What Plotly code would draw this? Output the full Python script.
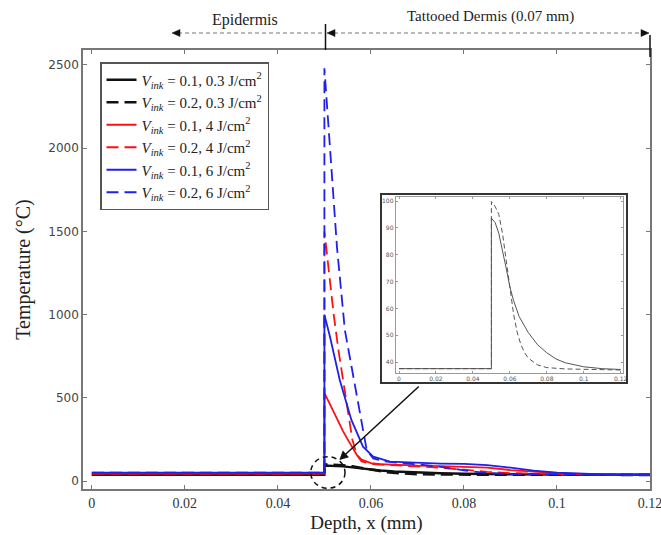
import plotly.graph_objects as go

# ---------------- data ----------------
labels = [
    "<i>V</i><sub><i>ink</i></sub> = 0.1, 0.3 J/cm<sup>2</sup>",
    "<i>V</i><sub><i>ink</i></sub> = 0.2, 0.3 J/cm<sup>2</sup>",
    "<i>V</i><sub><i>ink</i></sub> = 0.1, 4 J/cm<sup>2</sup>",
    "<i>V</i><sub><i>ink</i></sub> = 0.2, 4 J/cm<sup>2</sup>",
    "<i>V</i><sub><i>ink</i></sub> = 0.1, 6 J/cm<sup>2</sup>",
    "<i>V</i><sub><i>ink</i></sub> = 0.2, 6 J/cm<sup>2</sup>",
]

# black solid (0.1, 0.3 J/cm2)
x_k1 = [0, 0.05, 0.05, 0.052, 0.054, 0.056, 0.058, 0.06, 0.062, 0.065, 0.07, 0.075, 0.08, 0.085, 0.09, 0.1, 0.11, 0.12]
y_k1 = [37.6, 37.6, 93.6, 92, 88, 82, 75, 68, 63, 57, 51, 46.5, 43.5, 41.2, 39.8, 38.3, 37.6, 37.3]
# black dashed (0.2, 0.3 J/cm2)
x_k2 = [0, 0.05, 0.05, 0.052, 0.054, 0.056, 0.058, 0.06, 0.062, 0.064, 0.066, 0.068, 0.07, 0.075, 0.08, 0.09, 0.1, 0.12]
y_k2 = [37.6, 37.6, 99.8, 98, 95, 88, 78, 67, 58, 51, 46.5, 43.5, 41.5, 39, 38, 37.5, 37.3, 37.1]
# red solid (0.1, 4 J/cm2)
x_r1 = [0, 0.05, 0.05, 0.051, 0.052, 0.053, 0.054, 0.055, 0.056, 0.057, 0.058, 0.06, 0.062, 0.065, 0.07, 0.075, 0.08, 0.085, 0.09, 0.095, 0.1, 0.105, 0.11, 0.12]
y_r1 = [44, 44, 530, 470, 410, 355, 300, 250, 200, 155, 128, 108, 101, 96, 92, 90, 87, 80, 66, 55, 47, 42, 39.5, 38]
# red dashed (0.2, 4 J/cm2)
x_r2 = [0, 0.05, 0.05, 0.051, 0.052, 0.053, 0.054, 0.055, 0.056, 0.057, 0.058, 0.06, 0.065, 0.07, 0.075, 0.08, 0.085, 0.09, 0.1, 0.11, 0.12]
y_r2 = [44, 44, 1500, 1240, 1000, 790, 600, 420, 250, 155, 118, 102, 94, 90, 80, 68, 55, 47, 41, 38.5, 38]
# blue solid (0.1, 6 J/cm2)
x_b1 = [0, 0.05, 0.05, 0.0512, 0.0533, 0.0558, 0.0583, 0.0605, 0.0641, 0.07, 0.075, 0.08, 0.085, 0.09, 0.095, 0.1, 0.105, 0.11, 0.12]
y_b1 = [50, 50, 1000, 867, 607, 367, 206, 146, 116, 108, 105, 103, 96, 80, 62, 50, 44, 40, 38]
# blue dashed (0.2, 6 J/cm2)
x_b2 = [0, 0.05, 0.05, 0.051, 0.052, 0.0527, 0.0544, 0.0558, 0.0576, 0.0591, 0.0605, 0.063, 0.067, 0.07, 0.075, 0.08, 0.085, 0.09, 0.1, 0.12]
y_b2 = [50, 50, 2480, 2080, 1690, 1406, 907, 687, 407, 186, 136, 118, 106, 100, 85, 64, 48, 42, 39, 38]

x_ticks = [0, 0.02, 0.04, 0.06, 0.08, 0.1, 0.12]
x_ticktext = ["0", "0.02", "0.04", "0.06", "0.08", "0.1", "0.12"]
y_ticks = [0, 500, 1000, 1500, 2000, 2500]
inset_y_ticks = [40, 50, 60, 70, 80, 90, 100]

SERIF = "Liberation Serif"

fig = go.Figure()

series = [
    (x_k1, y_k1, "#111111", "solid", 2.4),
    (x_k2, y_k2, "#111111", "12px,6px", 2.6),
    (x_r1, y_r1, "#ff1010", "solid", 1.8),
    (x_r2, y_r2, "#ff1010", "12px,6px", 1.8),
    (x_b1, y_b1, "#2020e8", "solid", 1.8),
    (x_b2, y_b2, "#2020e8", "12px,6px", 1.8),
]
for (xs, ys, col, dash, w), lab in zip(series, labels):
    fig.add_trace(go.Scatter(x=xs, y=ys, mode="lines", name=lab,
                             line=dict(color=col, dash=dash, width=w)))

# inset traces
fig.add_trace(go.Scatter(x=x_k1, y=y_k1, mode="lines", xaxis="x2", yaxis="y2",
                         showlegend=False, line=dict(color="#555555", width=1)))
fig.add_trace(go.Scatter(x=x_k2, y=y_k2, mode="lines", xaxis="x2", yaxis="y2",
                         showlegend=False, line=dict(color="#555555", width=1, dash="5px,3px")))

W, H = 661, 535
L, R, T, B = 83, 11, 50, 46
PW, PH = W - L - R, H - T - B


def px(xp):
    return (xp - L) / PW


def py(yp):
    return (H - B - yp) / PH


axis_common = dict(showgrid=False, zeroline=False, showline=True, linecolor="#777777",
                   linewidth=1.5, ticks="inside", ticklen=4, tickcolor="#777777",
                   mirror="allticks", automargin=False, ticklabeloverflow="allow")

fig.update_layout(
    width=W, height=H,
    margin=dict(l=L, r=R, t=T, b=B, autoexpand=False),
    paper_bgcolor="white", plot_bgcolor="white",
    xaxis=dict(range=[-0.0019, 0.12], tickvals=x_ticks, ticktext=x_ticktext,
               tickfont=dict(family=SERIF, size=14, color="#333333"),
               title=dict(text="Depth, x (mm)", font=dict(family=SERIF, size=19, color="#222222"),
                          standoff=6),
               **axis_common),
    yaxis=dict(range=[-48, 2590], tickvals=y_ticks,
               tickfont=dict(family="DejaVu Sans", size=12, color="#444444"),
               title=dict(text="Temperature (°C)", font=dict(family=SERIF, size=20, color="#222222"),
                          standoff=12),
               **axis_common),
    xaxis2=dict(domain=[px(395.7), px(623.3)], anchor="y2", range=[-0.0018, 0.1214],
                tickvals=x_ticks, ticktext=x_ticktext, ticklabeloverflow="allow",
                tickfont=dict(family="DejaVu Sans", size=6, color="#555555"),
                showgrid=False, zeroline=False, showline=True, linecolor="#999999",
                linewidth=1, ticks="inside", ticklen=2, tickcolor="#999999", mirror="allticks"),
    yaxis2=dict(domain=[py(372.7), py(196.7)], anchor="x2", range=[36.1, 101.6],
                tickvals=inset_y_ticks,
                tickfont=dict(family="DejaVu Sans", size=6, color="#555555"),
                showgrid=False, zeroline=False, showline=True, linecolor="#999999",
                linewidth=1, ticks="inside", ticklen=2, tickcolor="#999999", mirror="allticks"),
    legend=dict(x=px(100), y=py(62), xanchor="left", yanchor="top",
                bgcolor="white", bordercolor="#555555", borderwidth=1.5,
                font=dict(family=SERIF, size=15, color="#222222")),
    showlegend=True,
)

# inset outer frame
fig.add_shape(type="rect", xref="paper", yref="paper",
              x0=px(381), x1=px(627), y0=py(383), y1=py(194),
              line=dict(color="#333333", width=2))

# dashed circle around the low-fluence peaks
fig.add_shape(type="circle", xref="paper", yref="paper",
              x0=px(310.7), x1=px(345), y0=py(488.3), y1=py(456.7),
              line=dict(color="#111111", width=1.5, dash="5px,4px"))

# arrow from the inset to the circled region
fig.add_annotation(x=0.0532, y=126, xref="x", yref="y", ax=81, ay=-75, text="",
                   showarrow=True, arrowhead=2, arrowsize=1.2, arrowwidth=1.5,
                   arrowcolor="#111111")

# layer markers above the plot
fig.add_shape(type="line", xref="paper", yref="paper", x0=px(178), x1=px(324.5),
              y0=py(33), y1=py(33), line=dict(color="#777777", width=1, dash="4px,3px"))
fig.add_shape(type="line", xref="paper", yref="paper", x0=px(334), x1=px(642),
              y0=py(33), y1=py(33), line=dict(color="#777777", width=1, dash="4px,3px"))
fig.add_shape(type="line", xref="paper", yref="paper", x0=px(325.5), x1=px(325.5),
              y0=py(50), y1=py(24), line=dict(color="#111111", width=1.5))
fig.add_shape(type="line", xref="paper", yref="paper", x0=px(650), x1=px(650),
              y0=py(57), y1=py(35), line=dict(color="#111111", width=1.5))


def tri(tip_x, base_x, yc, half=3.5):
    return (f"M {px(tip_x)},{py(yc)} L {px(base_x)},{py(yc - half)} "
            f"L {px(base_x)},{py(yc + half)} Z")


for tip, base in [(172, 180), (327, 335), (649, 641)]:
    fig.add_shape(type="path", xref="paper", yref="paper", path=tri(tip, base, 33),
                  fillcolor="#111111", line=dict(color="#111111", width=0.5))

fig.add_annotation(x=px(245), y=py(20), xref="paper", yref="paper", text="Epidermis",
                   xanchor="center", yanchor="middle",
                   showarrow=False, font=dict(family=SERIF, size=16, color="#222222"))
fig.add_annotation(x=px(490), y=py(17), xref="paper", yref="paper",
                   text="Tattooed Dermis (0.07 mm)", xanchor="center", yanchor="middle",
                   showarrow=False, font=dict(family=SERIF, size=15, color="#222222"))

fig.write_html("out.html")
